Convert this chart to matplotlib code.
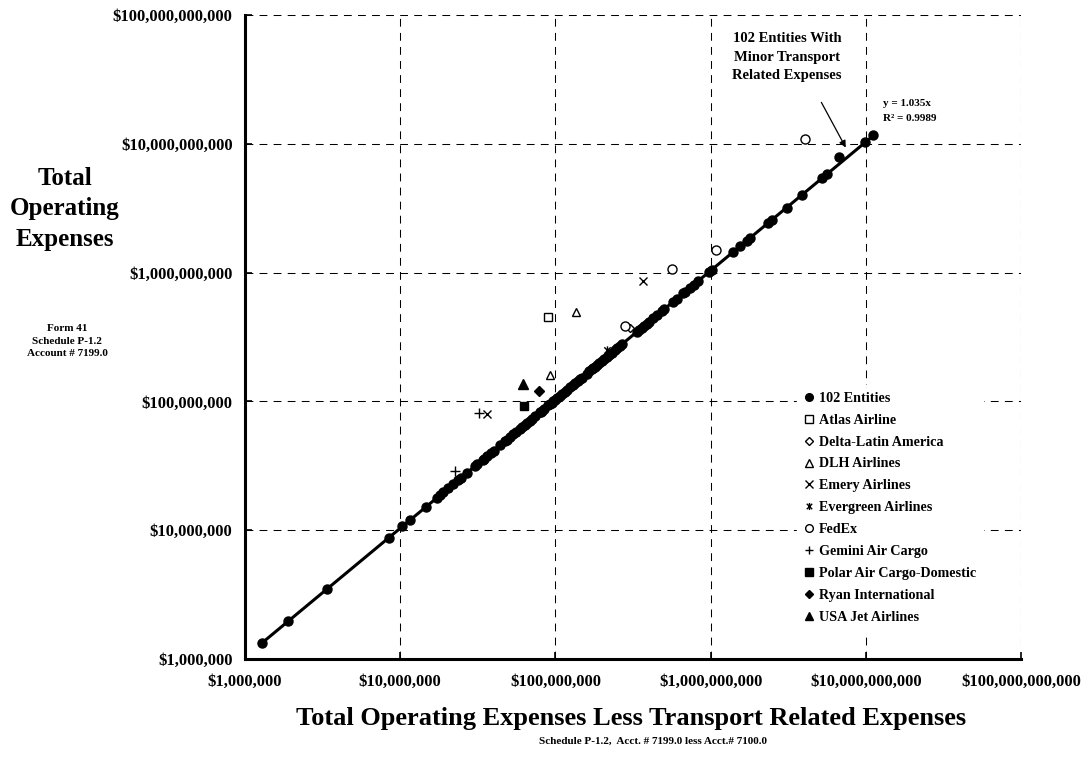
import matplotlib
matplotlib.use("Agg")
from matplotlib import pyplot as plt
from matplotlib.path import Path
from matplotlib.ticker import FixedLocator, FuncFormatter, NullLocator

#----------------DATA (values in $ millions)---------------
entities_x = [1.29, 1.90, 3.38, 8.47, 10.3, 11.6, 14.6, 17.2, 18.0, 19.0, 20.4, 22.0,
              23.7, 24.5, 27.1, 30.3, 31.4, 34.0, 34.7, 36.1, 38.5, 40.0, 44.0, 47.3,
              48.6, 51.0, 53.6, 56.0, 59.1, 61.0, 63.7, 66.0, 68.6, 71.0, 73.9, 79.6,
              80.5, 81.6, 84.0, 90.0, 92.0, 94.7, 97.0, 99.4, 102, 107, 111, 115, 118,
              124, 130, 134, 139, 144, 148, 159, 165, 171, 175, 180, 185, 192, 199, 206,
              214, 222, 231, 242, 250, 261, 270, 334, 345, 360, 372, 387, 400, 427, 449,
              484, 500, 575, 605, 667, 684, 737, 780, 833, 982, 1020, 1390, 1550, 1710,
              1790, 2350, 2480, 3090, 3860, 5200, 5650, 6750, 9890, 11200]
entities_y = [1.33, 1.97, 3.50, 8.77, 10.7, 12.0, 15.1, 17.8, 18.6, 19.7, 21.1, 22.8,
              24.5, 25.4, 28.0, 31.4, 32.5, 35.2, 35.9, 37.4, 39.8, 41.4, 45.5, 49.0,
              50.3, 52.8, 55.5, 58.0, 61.2, 63.1, 65.9, 68.3, 71.0, 73.5, 76.5, 82.4,
              83.3, 84.5, 86.9, 93.2, 95.2, 98.0, 100.4, 102.9, 105.6, 110.7, 114.9,
              119.0, 122.1, 128.3, 134.6, 138.7, 143.9, 149.0, 153.2, 164.6, 170.8,
              177.0, 181.1, 186.3, 191.5, 198.7, 206.0, 213.2, 221.5, 229.8, 239.1,
              250.5, 258.8, 270.1, 279.5, 345.7, 357.1, 372.6, 385.0, 400.5, 414.0,
              441.9, 464.7, 501.0, 517.5, 595.1, 626.2, 690.3, 707.9, 762.8, 807.3,
              862.2, 1016, 1056, 1439, 1604, 1770, 1853, 2432, 2567, 3198, 3995, 5382,
              5848, 7940, 10240, 11700]

atlas_x = [90.0];            atlas_y = [455]
delta_x = [303];             delta_y = [369]
dlh_x = [136, 91.9];         dlh_y = [497, 160]
emery_x = [368, 36.4];       emery_y = [865, 79.8]
evergreen_x = [214];         evergreen_y = [251]
fedex_x = [4080, 1090, 564, 281]
fedex_y = [10800, 1500, 1070, 385]
gemini_x = [32.3, 22.4];     gemini_y = [80.9, 28.7]
polar_x = [63.0];            polar_y = [92.0]
ryan_x = [78.4];             ryan_y = [121]
usajet_x = [62.1];           usajet_y = [136.5]

slope = 1.035
r2 = 0.9989
decades = [1e6, 1e7, 1e8, 1e9, 1e10, 1e11]

M = 1e6
def scale(values):
    return [v * M for v in values]

#----------------FONTS---------------
plt.rcParams["font.family"] = ["Liberation Serif", "DejaVu Serif"]
plt.rcParams["font.weight"] = "bold"

fig = plt.figure(figsize=(10.89, 7.57), dpi=100)
ax = fig.add_axes([0.225, 0.1295, 0.7126, 0.8507])
ax.set_xscale("log")
ax.set_yscale("log")
ax.set_xlim(decades[0], decades[-1])
ax.set_ylim(decades[0], decades[-1])

#----------------GRID AND AXES---------------
for d in decades[1:]:
    ax.axvline(d, color="black", lw=0.75, ls=(0, (7.5, 6)), zorder=1)
    ax.axhline(d, color="black", lw=0.75, ls=(0, (7.5, 6)), zorder=1)

ax.spines["top"].set_visible(False)
ax.spines["right"].set_visible(False)
ax.spines["left"].set_linewidth(2.2)
ax.spines["bottom"].set_linewidth(2.2)

fmt = FuncFormatter(lambda v, p: "${:,.0f}".format(v))
for axis in (ax.xaxis, ax.yaxis):
    axis.set_major_locator(FixedLocator(decades))
    axis.set_minor_locator(NullLocator())
    axis.set_major_formatter(fmt)
ax.tick_params(axis="both", direction="in", length=5, width=1.2, labelsize=12)
ax.tick_params(axis="x", pad=11)
ax.tick_params(axis="y", pad=9)
for lab in ax.get_xticklabels() + ax.get_yticklabels():
    lab.set_fontweight("bold")

#----------------TREND LINE---------------
x0 = min(entities_x) * M
x1 = max(entities_x) * M
ax.plot([x0, x1], [slope * x0, slope * x1], color="black", lw=2.2, zorder=3)

#----------------POINTS---------------
star = Path([(-1, -1), (1, 1), (-1, 1), (1, -1), (0, -1.3), (0, 1.3)],
            [Path.MOVETO, Path.LINETO, Path.MOVETO, Path.LINETO, Path.MOVETO, Path.LINETO])

ax.plot(scale(entities_x), scale(entities_y), "o", color="black", ms=6.5, ls="none",
        zorder=4, label="102 Entities")
ax.plot(scale(atlas_x), scale(atlas_y), "s", mfc="white", mec="black", mew=1, ms=6,
        ls="none", zorder=5, label="Atlas Airline")
ax.plot(scale(delta_x), scale(delta_y), "D", mfc="white", mec="black", mew=1, ms=4.5,
        ls="none", zorder=5, label="Delta-Latin America")
ax.plot(scale(dlh_x), scale(dlh_y), "^", mfc="white", mec="black", mew=1, ms=6,
        ls="none", zorder=5, label="DLH Airlines")
ax.plot(scale(emery_x), scale(emery_y), "x", color="black", mew=1, ms=6,
        ls="none", zorder=5, label="Emery Airlines")
ax.plot(scale(evergreen_x), scale(evergreen_y), marker=star, color="black", mew=1, ms=6,
        ls="none", zorder=5, label="Evergreen Airlines")
ax.plot(scale(fedex_x), scale(fedex_y), "o", mfc="white", mec="black", mew=1, ms=6.5,
        ls="none", zorder=5, label="FedEx")
ax.plot(scale(gemini_x), scale(gemini_y), "+", color="black", mew=1, ms=7,
        ls="none", zorder=5, label="Gemini Air Cargo")
ax.plot(scale(polar_x), scale(polar_y), "s", color="black", ms=6,
        ls="none", zorder=5, label="Polar Air Cargo-Domestic")
ax.plot(scale(ryan_x), scale(ryan_y), "D", color="black", ms=5,
        ls="none", zorder=5, label="Ryan International")
ax.plot(scale(usajet_x), scale(usajet_y), "^", color="black", ms=6.5,
        ls="none", zorder=5, label="USA Jet Airlines")

leg = ax.legend(loc="upper left", bbox_to_anchor=(0.702, 0.437), frameon=True,
                fancybox=False, edgecolor="white", facecolor="white", framealpha=1,
                prop={"size": 10.2, "weight": "bold"}, handlelength=0.65,
                handletextpad=0.4, labelspacing=0.63, borderpad=0.5, markerscale=0.85)
leg.set_zorder(6)

#----------------ANNOTATIONS---------------
ax.annotate("", xy=(7.57e9, 8.95e9), xytext=(5.07e9, 2.19e10),
            arrowprops=dict(arrowstyle="-|>", color="black", lw=0.9,
                            mutation_scale=10), zorder=7)
fig.text(787 / 1089, 1 - 57 / 757, "102 Entities With\nMinor Transport\nRelated Expenses",
         ha="center", va="center", fontsize=10.5, fontweight="bold", linespacing=1.5)
fig.text(883 / 1089, 1 - 111 / 757, "y = {}x\nR\u00b2 = {}".format(slope, r2),
         ha="left", va="center", fontsize=8, fontweight="bold", linespacing=1.75)

fig.text(65 / 1089, 1 - 209 / 757, "Total\nOperating\nExpenses", ha="center",
         va="center", fontsize=18, fontweight="bold", linespacing=1.4)
fig.text(67 / 1089, 1 - 341 / 757, "Form 41\nSchedule P-1.2\nAccount # 7199.0",
         ha="center", va="center", fontsize=8, fontweight="bold", linespacing=1.45)
fig.text(631 / 1089, 1 - 718 / 757,
         "Total Operating Expenses Less Transport Related Expenses",
         ha="center", va="center", fontsize=19, fontweight="bold")
fig.text(653 / 1089, 1 - 741 / 757, "Schedule P-1.2,  Acct. # 7199.0 less Acct.# 7100.0",
         ha="center", va="center", fontsize=8, fontweight="bold")

fig.savefig("out.png", dpi=100)
